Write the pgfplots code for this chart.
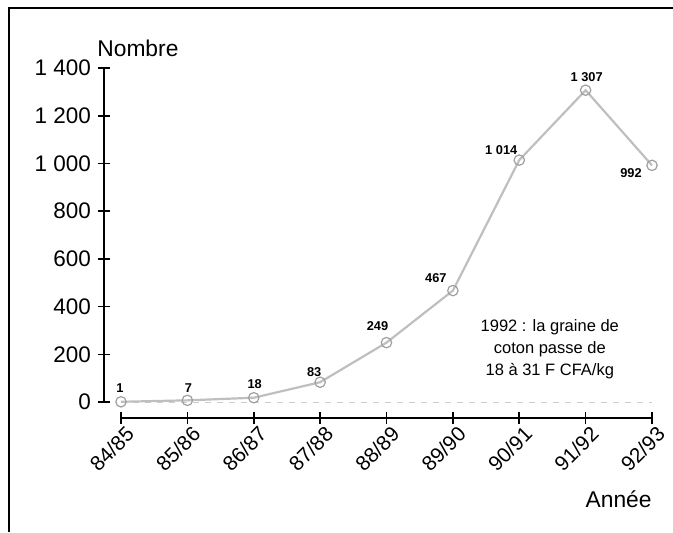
\documentclass[border=0pt]{standalone}
\usepackage{fontspec}
\setmainfont{Liberation Sans}
\usepackage{pgfplots}
\pgfplotsset{compat=1.18}
\begin{document}
\begin{tikzpicture}
\path[use as bounding box] (0,0) rectangle (336.5pt,266pt);
\draw[line width=1pt] (4.5pt,0) -- (4.5pt,262.25pt) -- (336.5pt,262.25pt);
\begin{axis}[
  at={(52pt,57pt)}, anchor=south west,
  scale only axis, width=274pt, height=175pt,
  xmin=-0.256, xmax=8, ymin=-67, ymax=1400,
  axis lines=left, axis line style={draw=none},
  clip=false,
  xtick={0,1,2,3,4,5,6,7,8},
  xticklabels={84/85,85/86,86/87,87/88,88/89,89/90,90/91,91/92,92/93},
  ytick={0,200,400,600,800,1000,1200,1400},
  yticklabels={0,200,400,600,800,1~000,1~200,1~400},
  tick align=center, major tick length=6pt,
  tick style={black, line width=0.8pt},
  tick label style={font=\fontsize{11.25}{13.5}\selectfont},
  xticklabel style={rotate=45, anchor=east, xshift=4.5pt, yshift=-5.5pt, font=\fontsize{10.4}{12.5}\selectfont},
  yticklabel style={anchor=east},
]
\draw[gray!40, dashed, line width=0.4pt] (axis cs:0,0) -- (axis cs:8,0);
\draw[line width=1.1pt] (axis cs:0,-67) -- (axis cs:8,-67);
\draw[line width=1.1pt] (axis cs:-0.256,0) -- (axis cs:-0.256,1400);
\addplot[gray!50, line width=1.1pt, mark=o, mark size=2.6pt,
  mark options={gray!75, fill=white, line width=0.6pt}]
  coordinates {(0,1) (1,7) (2,18) (3,83) (4,249) (5,467) (6,1014) (7,1307) (8,992)};
\begin{scope}[every node/.style={font=\fontsize{6.4}{7.7}\selectfont\bfseries}]
\node[xshift=-0.5pt, yshift=7pt] at (axis cs:0,1) {1};
\node[xshift=0.5pt, yshift=6pt] at (axis cs:1,7) {7};
\node[xshift=0.5pt, yshift=7pt] at (axis cs:2,18) {18};
\node[xshift=-3pt, yshift=5pt] at (axis cs:3,83) {83};
\node[xshift=-4.5pt, yshift=8.5pt] at (axis cs:4,249) {249};
\node[xshift=-8.5pt, yshift=6.5pt] at (axis cs:5,467) {467};
\node[xshift=-9pt, yshift=5pt] at (axis cs:6,1014) {1~014};
\node[xshift=0.5pt, yshift=6.5pt] at (axis cs:7,1307) {1~307};
\node[xshift=-10.5pt, yshift=-4pt] at (axis cs:8,992) {992};
\end{scope}
\node[anchor=base west, font=\fontsize{11.4}{13.5}\selectfont, inner sep=0pt] at (axis cs:-0.362,1450) {Nombre};
\node[anchor=base east, font=\fontsize{11.4}{13.5}\selectfont, inner sep=0pt] at (axis cs:8,-444) {Année};
\node[align=center, font=\fontsize{8.25}{11}\selectfont] at (axis cs:6.46,222) {1992 : la graine de\\coton passe de\\18 à 31 F CFA/kg};
\end{axis}
\end{tikzpicture}
\end{document}
